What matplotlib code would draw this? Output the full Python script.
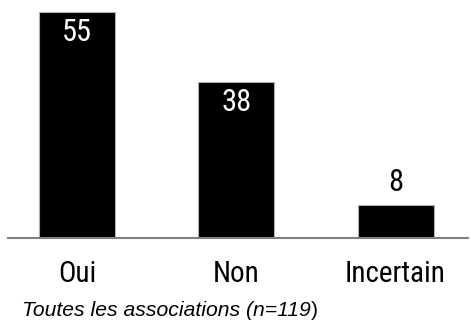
import matplotlib
matplotlib.use("Agg")
import matplotlib.pyplot as plt
from matplotlib import font_manager

categories = ["Oui", "Non", "Incertain"]
values = [55, 38, 8]
caption = "Toutes les associations (n=119"

# police étroite si disponible
installed = {f.name for f in font_manager.fontManager.ttflist}
narrow_stretch = "normal"
narrow = ["DejaVu Sans"]
for cand in ["Liberation Sans Narrow", "Roboto Condensed", "Open Sans Condensed", "Noto Sans Condensed"]:
    if cand in installed:
        narrow = [cand, "DejaVu Sans"]
        break
else:
    for f in font_manager.fontManager.ttflist:
        if f.stretch in ("condensed", 300, "semi-condensed", 400) and f.style == "normal":
            narrow = [f.name, "DejaVu Sans"]
            narrow_stretch = f.stretch
            break

fig = plt.figure(figsize=(4.71, 3.21), dpi=100)
ax = fig.add_axes([8 / 471, (321 - 237.7) / 321, 460 / 471, (237.7 - 12) / 321])

x = range(len(categories))
bars = ax.bar(x, values, width=0.477, color="black", edgecolor="#b0b0b0", linewidth=0.8)

ax.set_xlim(-0.433, 2.455)
ax.set_ylim(0, max(values))

for s in ["left", "right", "top"]:
    ax.spines[s].set_visible(False)
ax.spines["bottom"].set_color("#808080")
ax.spines["bottom"].set_linewidth(1.5)
ax.set_yticks([])
ax.set_xticks(list(x))
ax.set_xticklabels(categories, family=narrow, stretch=narrow_stretch, fontsize=21)
ax.tick_params(axis="x", length=0, pad=16)

# valeurs : dans la barre si assez haute, sinon au-dessus
for b, v in zip(bars, values):
    cx = b.get_x() + b.get_width() / 2
    if v > 20:
        ax.annotate(str(v), (cx, v), xytext=(0, -15), textcoords="offset points",
                    ha="center", va="center", color="white", fontsize=22,
                    family=narrow, stretch=narrow_stretch)
    else:
        ax.annotate(str(v), (cx, v), xytext=(0, 16), textcoords="offset points",
                    ha="center", va="center", color="black", fontsize=22,
                    family=narrow, stretch=narrow_stretch)

t = fig.text(22 / 471, 1 - 316 / 321, caption, fontsize=15.2, style="italic",
             family=["Liberation Sans", "DejaVu Sans"], va="baseline")
ax.annotate(")", xy=(1, 0), xycoords=t, fontsize=15.2, va="bottom",
            family=["Liberation Sans", "DejaVu Sans"], annotation_clip=False)

fig.savefig("out.png", dpi=100)
